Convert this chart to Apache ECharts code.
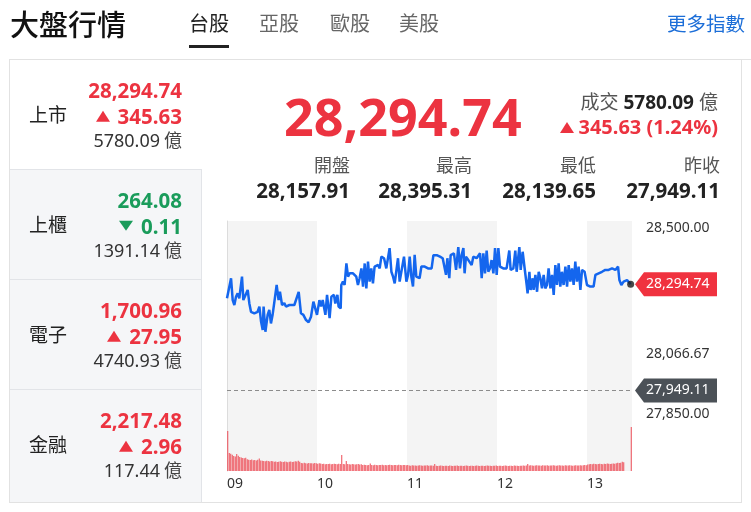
<!DOCTYPE html>
<html><head><meta charset="utf-8">
<script src="https://cdn.jsdelivr.net/npm/echarts@6/dist/echarts.min.js"></script>
<style>
html,body{margin:0;padding:0;background:#fff;}
body{width:751px;height:512px;position:relative;overflow:hidden;font-family:'Noto Sans','Noto Sans CJK TC',sans-serif;color:#222;}
#chart{position:absolute;left:0;top:0;width:751px;height:512px;z-index:5;}
.box{position:absolute;box-sizing:border-box;}
</style></head>
<body>
<div class="box" style="left:10px;top:59px;width:741px;height:1px;background:#e3e3e3"></div>
<div class="box" style="left:9px;top:59px;width:733px;height:444px;border:1px solid #e2e2e2"></div>
<div class="box" style="left:10px;top:169px;width:192px;height:333px;background:#f5f6f8;border-right:1px solid #e2e4e8;border-top:1px solid #e2e4e8"></div>
<div class="box" style="left:10px;top:279px;width:191px;height:1px;background:#e2e4e8"></div>
<div class="box" style="left:10px;top:389px;width:191px;height:1px;background:#e2e4e8"></div>
<div id="chart"></div>
<script>
// ---------- data ----------
const tabs = ['台股', '亞股', '歐股', '美股'];
const boardNames = ['上市', '上櫃', '電子', '金融'];
const boardPrices = ['28,294.74', '264.08', '1,700.96', '2,217.48'];
const boardChanges = ['345.63', '0.11', '27.95', '2.96'];
const boardDirs = ['up', 'down', 'up', 'up'];
const boardTurnover = ['5780.09', '1391.14', '4740.93', '117.44'];
const statLabels = ['開盤', '最高', '最低', '昨收'];
const statValues = ['28,157.91', '28,395.31', '28,139.65', '27,949.11'];
const lastPrice = 28294.74;
const changeText = '345.63 (1.24%)';
const turnoverText = '5780.09';
const prevClose = 27949.11;
const hourLabels = ['09', '10', '11', '12', '13'];
const yMin = 27850, yMax = 28500;

const priceMinutes = [
0,2.7,3.8,4.9,6.0,7.1,8.2,10.0,10.9,12.2,13.8,14.9,16.0,18.2,20.4,21.6,22.7,23.8,24.4,25.6,
27.1,28.2,29.3,30.4,31.6,33.1,34.4,35.3,36.7,38.2,39.3,41.6,44.9,46.0,47.8,49.3,50.9,52.7,54.4,56.0,
57.6,58.9,60.0,61.6,62.7,63.8,65.6,66.7,68.4,69.6,71.3,72.2,73.6,74.4,75.8,76.2,77.3,78.4,79.6,80.7,
81.8,84.0,85.1,86.2,87.3,88.4,89.6,90.7,91.8,92.9,94.0,95.1,96.2,97.3,98.4,100.7,101.8,102.9,104.7,106.2,
107.3,108.4,109.6,110.7,111.8,112.9,114.0,115.1,116.2,118.0,119.6,120.7,121.8,122.9,124.0,125.1,126.2,128.4,129.6,131.8,
134.0,136.4,137.6,139.8,142.0,143.8,144.7,146.0,146.9,148.2,149.1,150.4,151.3,152.7,154.2,155.3,156.4,157.6,158.4,159.3,
160.9,162.0,163.1,164.2,166.4,167.6,168.7,169.8,170.9,172.0,173.1,174.2,175.3,176.4,177.6,178.7,179.8,180.9,182.0,184.2,
186.4,188.2,189.1,190.9,192.2,193.1,194.9,195.8,197.1,198.7,199.8,200.4,201.6,202.4,203.8,204.4,205.6,206.7,207.8,208.9,
210.0,211.1,212.2,213.3,214.4,215.6,216.7,217.8,218.9,220.0,221.1,222.2,223.3,224.4,225.6,226.7,227.8,228.9,230.0,231.1,
232.2,233.3,234.4,235.6,236.7,238.4,240.0,242.2,244.4,245.6,247.8,250.0,252.2,254.4,256.7,258.9,260.7,261.6,262.9,264.4,
266.7,267.8,269.1];
const prices = [
28249,28314,28243,28227,28254,28265,28249,28319,28243,28238,28276,28232,28205,28200,28205,28222,28173,28146,28222,28140,
28195,28211,28167,28195,28238,28292,28243,28270,28227,28233,28222,28227,28227,28233,28270,28200,28195,28178,28171,28189,
28238,28233,28195,28243,28222,28243,28195,28260,28184,28254,28260,28232,28260,28222,28216,28292,28303,28292,28362,28319,
28330,28330,28325,28319,28292,28314,28346,28287,28362,28281,28368,28303,28346,28297,28352,28357,28346,28384,28379,28346,
28346,28412,28335,28319,28297,28297,28379,28303,28297,28384,28303,28325,28384,28319,28287,28390,28319,28314,28352,28352,
28346,28346,28389,28389,28384,28379,28384,28325,28379,28314,28389,28384,28395,28341,28415,28346,28389,28412,28330,28384,
28373,28379,28357,28384,28379,28373,28395,28314,28395,28330,28404,28335,28346,28373,28330,28412,28325,28412,28352,28346,
28346,28404,28341,28346,28404,28335,28415,28341,28400,28335,28292,28265,28335,28276,28314,28276,28325,28270,28335,28314,
28281,28325,28281,28292,28346,28281,28325,28260,28357,28292,28362,28287,28335,28292,28352,28287,28357,28303,28346,28292,
28368,28303,28352,28276,28341,28335,28292,28287,28287,28325,28330,28335,28341,28341,28346,28341,28352,28308,28292,28303,
28308,28308,28294.74];

const volumes = [
172,
77,74,70, 65, 62, 73, 66, 60,
58,56,55,57,
50,48,47,49,46,47,45,48,
54,
45,44,43,42,44,43,41,43,
42,
40,41,39,40,42,40,39,41,40,38,40,41,39,40,42,41,
44, 40,
34,33,35,33,32,34,33,33,32,34,33,31,33,32,
30,31,29,30,30,31,29,30,31,
30,29,31,30,
69, 30, 29, 43, 30,
29,28,30,29,28,29,30,28,29,
26,27,26,25,26,
32,
26,25,27,26,25,26,26,27,25,26,25,26,27,26,25,26,26,25,27,26,25,26,26,25,26,
24,23,25,24,24,23,24,25,24,23,24,24,25,23,24,24,23,
30,
23,22,23,24,23,22,23,23,22,24,23,22,23,23,24,22,23,23,22,23,
24,23,22,23,23,22,23,24,23,22,23,23,22,23,24,23,23,22,23,23,
24,22,23,23,22,23,24,23,22,23,23,22,24,23,23,22,23,
23,24,23,24,
30,
24,25,24,23,24,25,24,24,23,25,24,24,25,23,24,24,25,24,23,24,
25,24,24,23,25,24,24,25,24,23,24,25,24,24,25,24,25,26,25,
28,29,30,29,31,30,29,30,31,30,29,31,30,32,31,30,31,32,31,
33,35,34,36,40,38,
0,0,0,0,
189];

// ---------- page text ----------
const W = 751;
const RED = '#ec3340', GREEN = '#1a9c5b';
function text(x, cy, align, html, css) {
  const d = document.createElement('div');
  const pos = align === 'right' ? 'right:' + (W - x) + 'px;' : 'left:' + x + 'px;';
  d.style.cssText = 'position:absolute;' + pos + 'top:' + cy + 'px;transform:translateY(-50%);line-height:1;white-space:nowrap;display:flex;align-items:center;z-index:6;' + (css || '');
  d.innerHTML = html;
  document.body.appendChild(d);
  return d;
}
function tri(dir, color, gap) {
  return dir === 'up'
    ? '<span style="display:inline-block;width:0;height:0;border-left:7px solid transparent;border-right:7px solid transparent;border-bottom:11px solid ' + color + ';margin-right:' + gap + 'px"></span>'
    : '<span style="display:inline-block;width:0;height:0;border-left:7px solid transparent;border-right:7px solid transparent;border-top:10px solid ' + color + ';margin-right:' + gap + 'px"></span>';
}

text(10, 24, 'left', '大盤行情', 'font-size:29px;font-weight:500;color:#111;');
const tabX = [189, 259, 330, 399];
tabs.forEach((t, i) => text(tabX[i], 23.5, 'left', t, 'font-size:20px;color:' + (i === 0 ? '#222' : '#666') + ';'));
const ul = document.createElement('div');
ul.style.cssText = 'position:absolute;left:189px;top:45px;width:40px;height:3px;background:#222;';
document.body.appendChild(ul);
text(667, 24, 'left', '更多指數', 'font-size:19.5px;color:#1c6ed8;');

const secTop = [59, 169, 279, 389];
boardNames.forEach((n, i) => {
  const t = secTop[i];
  const c = boardDirs[i] === 'up' ? RED : GREEN;
  text(29, t + 56, 'left', n, 'font-size:19px;color:#222;');
  text(182, t + 31, 'right', boardPrices[i], 'font-size:20.5px;font-weight:bold;color:' + c + ';');
  text(182, t + 57, 'right', tri(boardDirs[i], c, 8) + '<span>' + boardChanges[i] + '</span>', 'font-size:20.5px;font-weight:bold;color:' + c + ';');
  text(182, t + 81, 'right', '<span>' + boardTurnover[i] + '</span><span style="margin-left:4px;color:#444">億</span>', 'font-size:18px;color:#333;');
});

const fmt = v => v.toLocaleString('en-US', {minimumFractionDigits: 2, maximumFractionDigits: 2});
text(284, 116, 'left', fmt(lastPrice), 'font-size:52px;font-weight:bold;color:' + RED + ';');
text(718, 102, 'right', '<span style="color:#555">成交</span><span style="margin-left:5px;font-weight:bold;color:#222">' + turnoverText + '</span><span style="margin-left:5px;color:#555">億</span>', 'font-size:19px;');
text(718, 127, 'right', tri('up', RED, 4) + '<span>' + changeText + '</span>', 'font-size:20px;font-weight:bold;color:' + RED + ';');
const statX = [350, 472, 596, 720];
statLabels.forEach((l, i) => {
  text(statX[i], 165, 'right', l, 'font-size:18px;color:#555;');
  text(statX[i], 190, 'right', statValues[i], 'font-size:20.5px;font-weight:bold;color:#222;');
});

// ---------- chart ----------
const chart = echarts.init(document.getElementById('chart'));
const lineData = priceMinutes.map((m, i) => [m, prices[i] - yMin]);
const volData = volumes.map((v, i) => [i + 0.5, v]);
const lastPt = lineData[lineData.length - 1];
const bands = {show: true, areaStyle: {color: ['#f4f4f4', '#ffffff']}};
chart.setOption({
  animation: false,
  textStyle: {fontFamily: 'Noto Sans'},
  grid: [
    {left: 227, top: 221, width: 405, height: 200},
    {left: 227, top: 421, width: 405, height: 50}
  ],
  xAxis: [
    {gridIndex: 0, type: 'value', min: 0, max: 270, interval: 60, axisLine: {show: false}, axisTick: {show: false},
     axisLabel: {show: false}, splitLine: {show: false}, splitArea: bands},
    {gridIndex: 1, type: 'value', min: 0, max: 270, interval: 60, axisLine: {show: false}, axisTick: {show: false},
     axisLabel: {show: true, align: 'left', margin: 6, fontSize: 14, color: '#333',
       formatter: v => (v % 60 === 0 && hourLabels[v / 60]) ? hourLabels[v / 60] : ''},
     splitLine: {show: false}, splitArea: bands}
  ],
  yAxis: [
    {gridIndex: 0, type: 'value', position: 'right', min: 0, max: yMax - yMin, interval: (yMax - yMin) / 3,
     axisLine: {show: true, lineStyle: {color: '#dcdcdc'}}, axisTick: {show: false},
     axisLabel: {show: true, margin: 14, fontSize: 14, color: '#333',
       verticalAlignMinLabel: 'bottom', verticalAlignMaxLabel: 'top',
       formatter: v => Math.abs(v + yMin - lastPrice) < 30 ? '' : fmt(v + yMin)},
     splitLine: {show: true, lineStyle: {color: '#e4e4e4'}}},
    {gridIndex: 1, type: 'value', position: 'right', min: 0, max: 215,
     axisLine: {show: true, lineStyle: {color: '#dcdcdc'}}, axisTick: {show: false},
     axisLabel: {show: false}, splitLine: {show: false}}
  ],
  series: [
    {type: 'bar', xAxisIndex: 1, yAxisIndex: 1, data: volData, barWidth: 1,
     itemStyle: {color: '#ee4b56'}, silent: true},
    {type: 'line', xAxisIndex: 0, yAxisIndex: 0, data: lineData, showSymbol: false,
     lineStyle: {color: '#1466ee', width: 2.5}, z: 3,
     markLine: {silent: true, symbol: ['none', 'none'], label: {show: false},
       lineStyle: {type: [4, 3], color: '#8c8c8c', width: 1},
       data: [{yAxis: prevClose - yMin}]}},
    {type: 'scatter', xAxisIndex: 0, yAxisIndex: 0, data: [lastPt], symbolSize: 7,
     itemStyle: {color: '#1a1a1a'}, z: 4}
  ]
});

function tag(value, color) {
  const y = chart.convertToPixel({yAxisIndex: 0}, value - yMin);
  const h = 12;
  return [
    {type: 'polygon', z: 100, shape: {points: [[635, y], [644, y - h], [717, y - h], [717, y + h], [644, y + h]]},
     style: {fill: color}},
    {type: 'text', z: 101, x: 646, y: y,
     style: {text: fmt(value), fill: '#fff', font: '14px "Noto Sans"', verticalAlign: 'middle', textVerticalAlign: 'middle'}}
  ];
}
chart.setOption({graphic: [].concat(tag(lastPrice, '#f0323f'), tag(prevClose, '#4b5157'))});
</script>
</body></html>
